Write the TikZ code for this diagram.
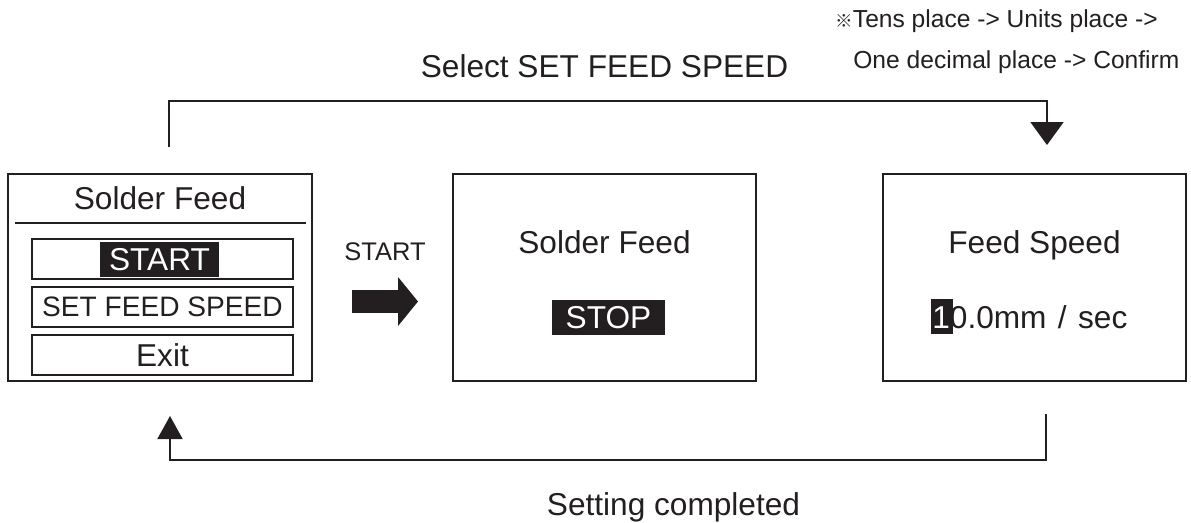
\documentclass[tikz,border=0pt]{standalone}
\usepackage{fontspec}
\setmainfont{Liberation Sans}
\newfontfamily\markfont{Noto Sans CJK JP}
\usetikzlibrary{arrows.meta}
\definecolor{ink}{RGB}{35,31,32}

\begin{document}
\begin{tikzpicture}[x=0.02cm,y=-0.02cm,ink,
    screen/.style={draw,line width=1.1pt,minimum width=6.06cm,minimum height=4.14cm},
    item/.style={draw,line width=0.6pt,minimum width=5.22cm,minimum height=0.8cm,inner sep=0pt,font=\fontsize{18}{20}\selectfont},
    hl/.style={fill=ink,text=white,minimum height=0.7cm,inner sep=0pt,font=\fontsize{18}{20}\selectfont},
    lbl/.style={anchor=base,inner sep=0pt,font=\fontsize{18}{20}\selectfont},
    note/.style={anchor=base west,inner sep=0pt,font=\fontsize{14}{16}\selectfont},
    flow/.style={line width=1.1pt}]
  \useasboundingbox (0,0) rectangle (1191,522);
  % screens
  \node[screen,minimum width=6.08cm] (menu) at (160,277.5) {};
  \node[screen] (run) at (604.5,277.5) {};
  \node[screen] (speed) at (1034.5,277.5) {};
  % menu screen
  \node[lbl] (menutitle) at (160,209) {Solder Feed};
  \draw[line width=1.1pt] (15,223) -- (306,223);
  \node[item] (istart) at (162.5,259) {};
  \node[item,font=\fontsize{16}{18}\selectfont] (iset) at (162.5,307) {SET FEED SPEED};
  \node[item] (iexit) at (162.5,355) {Exit};
  \node[hl,minimum width=2.38cm] (hstart) at (159.5,259.5) {START};
  % start arrow
  \node[lbl,font=\fontsize{14.5}{16}\selectfont] (startlbl) at (385,260) {START};
  \draw[line width=0.46cm,-{Triangle[length=0.4cm,width=0.96cm]}] (352,301.5) -- (418,301.5);
  % running screen
  \node[lbl] (runtitle) at (604.5,253) {Solder Feed};
  \node[hl,minimum width=2.26cm] (hstop) at (608.5,317.5) {STOP};
  % speed screen
  \node[lbl] (speedtitle) at (1034.5,253) {Feed Speed};
  \node[hl,minimum width=0.44cm] (cursor) at (942,316.5) {};
  \node[lbl,anchor=base west] (speedval) at (932,328) {\textcolor{white}{1}0.0mm\hspace{0.36em}/\hspace{0.36em}sec};
  % connectors
  \coordinate (selA) at (169,147);
  \coordinate (selB) at (1047,145);
  \draw[flow,-{Triangle[length=0.46cm,width=0.66cm]}] (selA) -- (selA |- 0,101) -| (selB);
  \node[lbl] (sellbl) at (604.5,77) {Select SET FEED SPEED};
  \coordinate (doneA) at (1046,414);
  \coordinate (doneB) at (170,416);
  \draw[flow,-{Triangle[length=0.46cm,width=0.5cm]}] (doneA) -- (doneA |- 0,460) -| (doneB);
  \node[lbl] (donelbl) at (673.5,515) {Setting completed};
  % note
  \node[note] (note1) at (835,27) {{\markfont\fontsize{10}{12}\selectfont ※}Tens place -> Units place ->};
  \node[note] (note2) at (853,68) {One decimal place -> Confirm};
\end{tikzpicture}
\end{document}
